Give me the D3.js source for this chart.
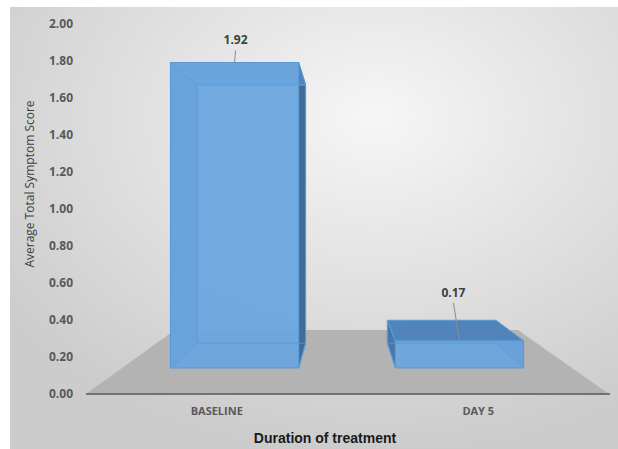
<!DOCTYPE html>
<html>
<head>
<meta charset="utf-8">
<script src="https://cdn.jsdelivr.net/npm/d3@7"></script>
<style>
  body { margin: 0; background: #fff; }
  svg text { font-family: "Open Sans", "Noto Sans", sans-serif; }
</style>
</head>
<body>
<svg id="chart"></svg>
<script>
var categories = ["BASELINE", "DAY 5"];
var values = [1.92, 0.17];
var labels = ["1.92", "0.17"];

var width = 618;
var height = 449;

// vanishing point for the 3d look, and depth fractions
var vp = [344, 208];
var floorDepth = 0.344;
var barFront = 0.14;
var barBack = 0.273;

var svg = d3.select('#chart')
    .attr('width', width)
    .attr('height', height);

var defs = svg.append('defs');
var grad = defs.append('radialGradient')
    .attr('id', 'bg')
    .attr('cx', '0.6').attr('cy', '0.25').attr('r', '0.75');
grad.append('stop').attr('offset', '0%').attr('stop-color', '#f6f6f6');
grad.append('stop').attr('offset', '100%').attr('stop-color', '#cccccc');

svg.append('rect')
    .attr('x', 10).attr('y', 7)
    .attr('width', width - 10).attr('height', height - 7)
    .attr('fill', 'url(#bg)');

var x = d3.scaleBand()
    .domain(categories)
    .range([86, 609])
    .paddingInner(0.43)
    .paddingOuter(0.215);

var y = d3.scaleLinear()
    .domain([0, 2])
    .range([394, 24]);

function proj(px, py, t) {
  return [px + t * (vp[0] - px), py + t * (vp[1] - py)];
}
function poly(pts) {
  return 'M' + pts.map(p => p[0] + ',' + p[1]).join('L') + 'Z';
}

// floor
var x0 = 86, x1 = 609, y0 = y(0);
svg.append('path')
    .attr('d', poly([proj(x0, y0, 0), proj(x1, y0, 0), proj(x1, y0, floorDepth), proj(x0, y0, floorDepth)]))
    .attr('fill', '#b3b3b3');

// y axis ticks
svg.append('g')
  .selectAll('text')
  .data(y.ticks(10))
  .enter()
  .append('text')
    .attr('x', 73)
    .attr('y', d => y(d))
    .attr('dy', '0.35em')
    .attr('text-anchor', 'end')
    .attr('font-size', 12)
    .attr('font-weight', 'bold')
    .attr('fill', '#595959')
    .text(d3.format('.2f'));

// bars
var bars = svg.append('g');
categories.forEach(function(c, i) {
  var l = x(c), r = x(c) + x.bandwidth();
  var top = y(values[i]), bot = y(0);
  var f = [proj(l, top, barFront), proj(r, top, barFront), proj(r, bot, barFront), proj(l, bot, barFront)];
  var b = [proj(l, top, barBack), proj(r, top, barBack), proj(r, bot, barBack), proj(l, bot, barBack)];
  var g = bars.append('g');
  // outer faces that show around the front face
  var faces = [
    {pts: [f[0], f[3], b[3], b[0]], fill: '#4678ab'},
    {pts: [f[1], f[2], b[2], b[1]], fill: '#3f6c99'},
    {pts: [f[0], f[1], b[1], b[0]], fill: '#5084ba'}
  ];
  faces.forEach(function(fc) {
    g.append('path')
      .attr('d', poly(fc.pts))
      .attr('fill', fc.fill)
      .attr('stroke', '#5b9bd5')
      .attr('stroke-width', 1)
      .attr('stroke-linejoin', 'round');
  });
  g.append('path')
    .attr('d', poly(f))
    .attr('fill', '#6ba5dd')
    .attr('fill-opacity', 0.95)
    .attr('stroke', '#5b9bd5')
    .attr('stroke-width', 1);
  // inner edges seen through the front face
  var inner = [[b[0], b[1]], [b[0], b[3]], [b[3], b[2]], [f[0], b[0]], [f[3], b[3]], [f[2], b[2]]];
  inner.forEach(function(e) {
    g.append('line')
      .attr('x1', e[0][0]).attr('y1', e[0][1])
      .attr('x2', e[1][0]).attr('y2', e[1][1])
      .attr('stroke', '#5b9bd5')
      .attr('stroke-opacity', 0.8)
      .attr('stroke-width', 1);
  });

  // data label with leader line
  var cx = (f[0][0] + f[1][0]) / 2;
  var lx = i === 0 ? cx + 1 : cx - 6;
  var ly = i === 0 ? f[0][1] - 18 : f[0][1] - 44;
  svg.append('line')
    .attr('x1', lx).attr('y1', ly + 6)
    .attr('x2', cx).attr('y2', f[0][1])
    .attr('stroke', '#8c8c8c')
    .attr('stroke-width', 1);
  svg.append('text')
    .attr('x', lx)
    .attr('y', ly)
    .attr('text-anchor', 'middle')
    .attr('font-size', 12)
    .attr('font-weight', 'bold')
    .attr('fill', '#404040')
    .text(labels[i]);
});

// x axis line
svg.append('line')
    .attr('x1', x0).attr('x2', x1 + 1)
    .attr('y1', y0).attr('y2', y0)
    .attr('stroke', '#595959')
    .attr('stroke-width', 1.5);

svg.append('g')
  .selectAll('text')
  .data(categories)
  .enter()
  .append('text')
    .attr('x', d => x(d) + x.bandwidth() / 2)
    .attr('y', 415)
    .attr('text-anchor', 'middle')
    .attr('font-size', 11)
    .attr('font-weight', 'bold')
    .attr('fill', '#595959')
    .text(d => d);

svg.append('text')
    .attr('x', 325)
    .attr('y', 443)
    .attr('text-anchor', 'middle')
    .attr('font-size', 14)
    .attr('font-weight', 'bold')
    .attr('fill', '#1a1a1a')
    .style('font-family', '"Liberation Sans", Arial, sans-serif')
    .text('Duration of treatment');

svg.append('text')
    .attr('transform', 'translate(34,184) rotate(-90)')
    .attr('text-anchor', 'middle')
    .attr('font-size', 12)
    .attr('fill', '#404040')
    .text('Average Total Symptom Score');
</script>
</body>
</html>
